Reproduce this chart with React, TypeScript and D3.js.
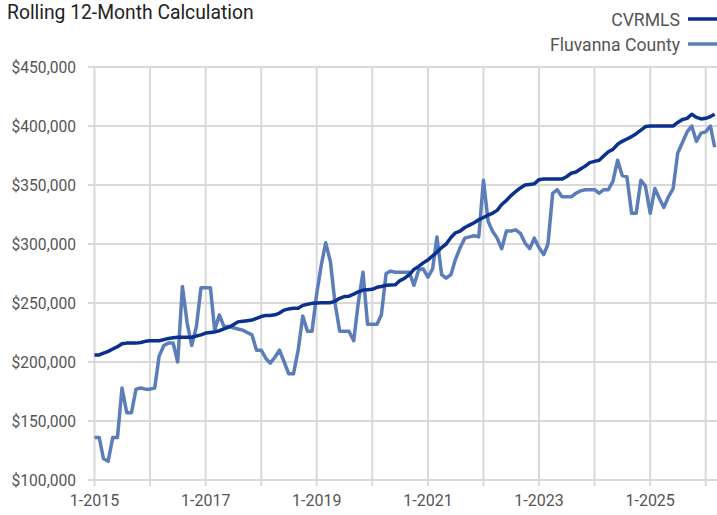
import * as d3 from "d3";
import { useEffect, useRef } from "react";

// monthly rolling 12-month median values, 1-2015 .. 3-2026
const cvrmls = [
  206000, 206000, 207500, 209000, 211000, 213000, 215500, 216000, 216000, 216000, 216500, 217500,
  218000, 218000, 218000, 219000, 220000, 220500, 221000, 221000, 221000, 221000, 222000, 223000,
  224500, 225000, 225500, 226500, 228000, 229500, 231500, 234000, 234500, 235000, 235500, 237000,
  238500, 239500, 239500, 240000, 241500, 244000, 245000, 245500, 245500, 248000, 249000, 249700,
  250000, 250300, 250300, 250300, 251500, 254000, 255500, 255800, 257500, 259500, 261000, 261300,
  261600, 263300, 264000, 265000, 265200, 265400, 269000, 271000, 274000, 278500, 281000, 284000,
  286500, 290000, 293000, 297000, 300000, 305500, 309500, 311000, 314000, 316000, 318000, 320500,
  322500, 324500, 326000, 328500, 333500, 337000, 341000, 344500, 347500, 350000, 350500, 351000,
  354500, 355000, 355000, 355000, 355000, 355000, 357000, 360000, 361000, 363500, 366000, 369000,
  370000, 371000, 374500, 378200, 380200, 384500, 387000, 389000, 391000, 393500, 396500, 399500,
  400000, 400000, 400000, 400000, 400000, 400000, 403000, 405500, 406500, 410000, 407300, 406000,
  406500, 408000, 410000,
];

const fluvanna = [
  136000, 136000, 118000, 116000, 136000, 136000, 178000, 157000, 157000, 177000, 178000, 177000,
  177000, 178000, 205000, 214000, 216000, 216000, 200000, 264000, 233000, 214000, 230000, 263000,
  263000, 263000, 227000, 240000, 230000, 230000, 229000, 228000, 227000, 225000, 223000, 210000,
  210000, 203000, 199000, 204000, 210000, 200000, 190000, 190000, 210000, 239000, 226000, 226000,
  258000, 283000, 301000, 285000, 250000, 226000, 226000, 226000, 218000, 250000, 276000, 232000,
  232000, 232000, 240000, 275000, 277000, 276000, 276000, 276000, 276000, 265000, 278000, 279000,
  272000, 279000, 306000, 274000, 271000, 274000, 287000, 297000, 305000, 306000, 307000, 306000,
  354000, 319000, 311000, 305000, 296000, 311000, 311000, 312000, 309000, 301000, 296000, 305000,
  297000, 291000, 300000, 343000, 346000, 340000, 340000, 340000, 343000, 345000, 346000, 346000,
  346000, 343000, 346000, 346000, 353000, 371000, 358000, 357000, 326000, 326000, 354000, 349000,
  326000, 347000, 339000, 331000, 340000, 347000, 377000, 386000, 395000, 400000, 387000, 394000,
  395000, 400000, 382000,
];

const seriesNames = ["CVRMLS", "Fluvanna County"];
const seriesColors = ["#0a318e", "#5b7db8"];
const yTicks = [100000, 150000, 200000, 250000, 300000, 350000, 400000, 450000];
const title = "Rolling 12-Month Calculation";

const W = 717;
const H = 515;
const FONT = "Roboto, 'Liberation Sans', sans-serif";

export default function App() {
  const svgRef = useRef<SVGSVGElement | null>(null);

  useEffect(() => {
    const svg = d3.select(svgRef.current);
    svg.selectAll("*").remove();

    const months = d3.timeMonth.range(new Date(2015, 0, 1), new Date(2015, 0 + cvrmls.length, 1));

    const x = d3
      .scaleTime()
      .domain([new Date(2015, 0, 1), new Date(2026, 0, 1)])
      .range([94.5, 705.7]);
    const y = d3.scaleLinear().domain([100000, 450000]).range([480, 67]);

    svg
      .append("text")
      .attr("x", 7)
      .attr("y", 19)
      .attr("font-family", FONT)
      .attr("font-size", 19.3)
      .attr("fill", "#222")
      .text(title);

    // legend
    seriesNames.forEach((name, i) => {
      const ly = 19 + i * 25;
      svg
        .append("text")
        .attr("x", 680)
        .attr("y", ly + 6.5)
        .attr("text-anchor", "end")
        .attr("font-family", FONT)
        .attr("font-size", 17.6)
        .attr("fill", "#555")
        .text(name);
      svg
        .append("line")
        .attr("x1", 688)
        .attr("x2", 717)
        .attr("y1", ly)
        .attr("y2", ly)
        .attr("stroke", seriesColors[i])
        .attr("stroke-width", 3.5);
    });

    const grid = svg.append("g").attr("stroke", "#d9d9d9").attr("stroke-width", 2);

    grid
      .selectAll("line.h")
      .data(yTicks)
      .join("line")
      .attr("class", "h")
      .attr("x1", 88)
      .attr("x2", W)
      .attr("y1", (d) => y(d))
      .attr("y2", (d) => y(d));

    const years = d3.timeYear.range(new Date(2015, 0, 1), new Date(2026, 1, 1));
    grid
      .selectAll("line.v")
      .data(years)
      .join("line")
      .attr("class", "v")
      .attr("x1", (d) => x(d))
      .attr("x2", (d) => x(d))
      .attr("y1", 67)
      .attr("y2", 486);

    svg
      .append("g")
      .selectAll("text")
      .data(yTicks)
      .join("text")
      .attr("x", 76)
      .attr("y", (d) => y(d) + 5.5)
      .attr("text-anchor", "end")
      .attr("font-family", FONT)
      .attr("font-size", 15.6)
      .attr("fill", "#555")
      .text((d) => d3.format("$,")(d));

    const fmt = (d: Date) => `${d.getMonth() + 1}-${d.getFullYear()}`;
    svg
      .append("g")
      .selectAll("text")
      .data(years.filter((d) => d.getFullYear() % 2 === 1))
      .join("text")
      .attr("x", (d) => x(d))
      .attr("y", 506)
      .attr("text-anchor", "middle")
      .attr("font-family", FONT)
      .attr("font-size", 16)
      .attr("fill", "#555")
      .text(fmt);

    const line = d3
      .line<number>()
      .x((_, i) => x(months[i]))
      .y((d) => y(d));

    [fluvanna, cvrmls].forEach((vals, k) => {
      svg
        .append("path")
        .datum(vals)
        .attr("fill", "none")
        .attr("stroke", k === 0 ? seriesColors[1] : seriesColors[0])
        .attr("stroke-width", 3.5)
        .attr("stroke-linejoin", "round")
        .attr("d", line);
    });
  }, []);

  return (
    <svg
      ref={svgRef}
      width={W}
      height={H}
      style={{ position: "absolute", left: 0, top: 0, background: "#fff" }}
    />
  );
}
